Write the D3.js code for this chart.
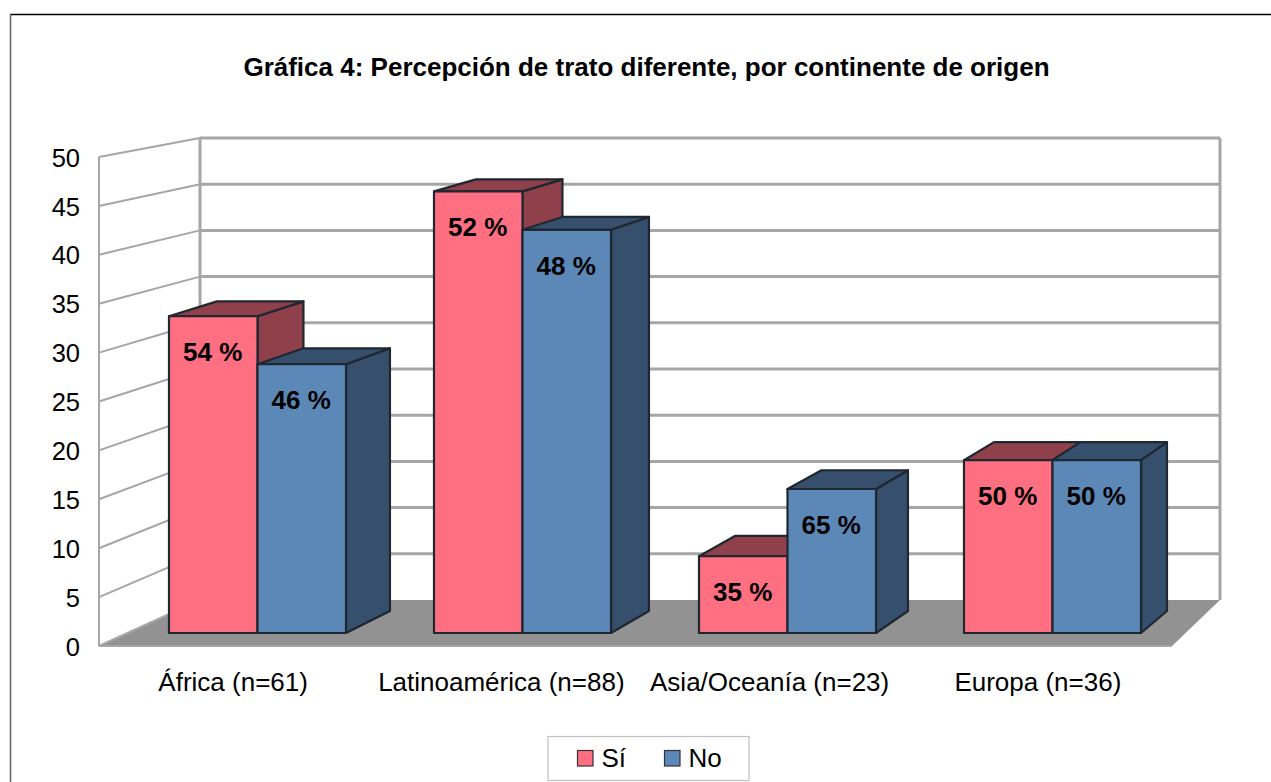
<!DOCTYPE html>
<html>
<head>
<meta charset="utf-8">
<script src="https://cdn.jsdelivr.net/npm/d3@7"></script>
<style>
  html, body { margin: 0; padding: 0; background: #fff; }
  svg { display: block; font-family: "Liberation Sans", sans-serif; }
  .tick text { font-size: 25.5px; fill: #000; }
  .cat { font-size: 26px; fill: #000; }
  .title { font-size: 26px; font-weight: bold; }
  .value { font-size: 26px; font-weight: bold; }
</style>
</head>
<body>
<svg width="1271" height="782"></svg>
<script>
const categories = ['África (n=61)', 'Latinoamérica (n=88)', 'Asia/Oceanía (n=23)', 'Europa (n=36)'];
const seriesNames = ['Sí', 'No'];
const siValues = [33, 46, 8, 18];
const noValues = [28, 42, 15, 18];
const siLabels = ['54 %', '52 %', '35 %', '50 %'];
const noLabels = ['46 %', '48 %', '65 %', '50 %'];
const yTicks = [0, 5, 10, 15, 20, 25, 30, 35, 40, 45, 50];

const colors = { 'Sí': '#ff6f82', 'No': '#5c88b8' };
const darkColors = { 'Sí': '#8f404a', 'No': '#354f6c' };
const edge = '#1f2730';

const svg = d3.select('svg');

// the walls get one y scale for the front edge and one for the back edge
const yFront = d3.scaleLinear().domain([0, 50]).range([646, 157]);
const yBack = d3.scaleLinear().domain([0, 50]).range([600, 138]);
const yBar = d3.scaleLinear().domain([0, 50]).range([633, 153]);

const xLabel = d3.scaleBand().domain(categories).range([99, 1172]);
const xGroup = d3.scaleBand().domain(categories).range([125, 1185])
  .paddingInner(0.332).paddingOuter(0.166);
const xSeries = d3.scaleBand().domain(seriesNames).range([0, xGroup.bandwidth()]);

// bar depth runs towards a vanishing point far off to the upper right
const vanish = [2290, -340];
const depth = 0.0226;
const back = ([x, y]) => [x + depth * (vanish[0] - x), y + depth * (vanish[1] - y)];

const poly = (pts) => pts.map((p) => p.join(',')).join(' ');

// outer frame runs off the right and bottom of the picture
svg.append('line')
  .attr('x1', 10).attr('x2', 1271)
  .attr('y1', 14.5).attr('y2', 14.5)
  .attr('stroke', '#000')
  .attr('stroke-width', 1.6);
svg.append('line')
  .attr('x1', 10.5).attr('x2', 10.5)
  .attr('y1', 14).attr('y2', 782)
  .attr('stroke', '#666')
  .attr('stroke-width', 1.6);

svg.append('text')
  .attr('class', 'title')
  .attr('x', 646.5)
  .attr('y', 76)
  .attr('text-anchor', 'middle')
  .text('Gráfica 4: Percepción de trato diferente, por continente de origen');

// floor
svg.append('polygon')
  .attr('points', poly([[99, yFront(0)], [200, yBack(0)], [1220, yBack(0)], [1172, yFront(0)]]))
  .attr('fill', '#929292');

const grid = svg.append('g')
  .attr('fill', 'none')
  .attr('stroke', '#a6a6a6');

grid.selectAll('.back')
  .data(yTicks.filter((t) => t > 0))
  .enter()
  .append('line')
  .attr('x1', 200)
  .attr('x2', 1220)
  .attr('y1', (t) => yBack(t))
  .attr('y2', (t) => yBack(t))
  .attr('stroke-width', 3);

grid.selectAll('.side')
  .data(yTicks)
  .enter()
  .append('line')
  .attr('x1', 99)
  .attr('x2', 200)
  .attr('y1', (t) => yFront(t))
  .attr('y2', (t) => yBack(t))
  .attr('stroke-width', 2);

grid.append('line')
  .attr('x1', 200).attr('x2', 200)
  .attr('y1', yBack(50)).attr('y2', yBack(0))
  .attr('stroke-width', 3);
grid.append('line')
  .attr('x1', 1220).attr('x2', 1220)
  .attr('y1', yBack(50)).attr('y2', yBack(0))
  .attr('stroke-width', 3);
grid.append('line')
  .attr('x1', 99).attr('x2', 99)
  .attr('y1', yFront(50)).attr('y2', yFront(0))
  .attr('stroke-width', 2);
grid.append('line')
  .attr('x1', 99).attr('x2', 1172)
  .attr('y1', yFront(0)).attr('y2', yFront(0))
  .attr('stroke-width', 2);

svg.append('g')
  .attr('transform', 'translate(84, 1)')
  .call(d3.axisLeft(yFront).tickValues(yTicks).tickSize(0).tickPadding(4))
  .call((g) => g.select('.domain').remove())
  .attr('font-family', null)
  .attr('font-size', null);

svg.append('g')
  .selectAll('text')
  .data(categories)
  .enter()
  .append('text')
  .attr('class', 'cat')
  .attr('x', (c) => xLabel(c) + xLabel.bandwidth() / 2)
  .attr('y', 691)
  .attr('text-anchor', 'middle')
  .text((c) => c);

const barData = [];
categories.forEach((c, i) => {
  barData.push({ cat: c, series: 'Sí', value: siValues[i], label: siLabels[i] });
  barData.push({ cat: c, series: 'No', value: noValues[i], label: noLabels[i] });
});

const bars = svg.append('g')
  .attr('stroke', edge)
  .attr('stroke-width', 2.2)
  .attr('stroke-linejoin', 'round')
  .selectAll('g')
  .data(barData)
  .enter()
  .append('g');

const corners = (d) => {
  const x0 = xGroup(d.cat) + xSeries(d.series);
  const x1 = x0 + xSeries.bandwidth();
  return { x0, x1, y0: yBar(0), y1: yBar(d.value) };
};

// side, top, then the front face on top of both
bars.append('polygon')
  .attr('points', (d) => {
    const c = corners(d);
    return poly([[c.x1, c.y0], back([c.x1, c.y0]), back([c.x1, c.y1]), [c.x1, c.y1]]);
  })
  .attr('fill', (d) => darkColors[d.series]);

bars.append('polygon')
  .attr('points', (d) => {
    const c = corners(d);
    return poly([[c.x0, c.y1], back([c.x0, c.y1]), back([c.x1, c.y1]), [c.x1, c.y1]]);
  })
  .attr('fill', (d) => darkColors[d.series]);

bars.append('rect')
  .attr('x', (d) => corners(d).x0)
  .attr('y', (d) => corners(d).y1)
  .attr('width', xSeries.bandwidth())
  .attr('height', (d) => corners(d).y0 - corners(d).y1)
  .attr('fill', (d) => colors[d.series]);

svg.append('g')
  .selectAll('text')
  .data(barData)
  .enter()
  .append('text')
  .attr('class', 'value')
  .attr('x', (d) => corners(d).x0 + xSeries.bandwidth() / 2 - 0.5)
  .attr('y', (d) => corners(d).y1 + 45)
  .attr('text-anchor', 'middle')
  .text((d) => d.label);

// legend
const legend = svg.append('g');
legend.append('rect')
  .attr('x', 548)
  .attr('y', 736.5)
  .attr('width', 201)
  .attr('height', 44)
  .attr('fill', '#fff')
  .attr('stroke', '#c0c0c0')
  .attr('stroke-width', 1.2);

const xLegend = d3.scalePoint().domain(seriesNames).range([577.5, 664.5]);
const items = legend.selectAll('g.item')
  .data(seriesNames)
  .enter()
  .append('g')
  .attr('class', 'item');
items.append('rect')
  .attr('x', (s) => xLegend(s))
  .attr('y', 750.5)
  .attr('width', 15.5)
  .attr('height', 15.5)
  .attr('fill', (s) => colors[s])
  .attr('stroke', '#333')
  .attr('stroke-width', 1.2);
items.append('text')
  .attr('class', 'cat')
  .attr('x', (s) => xLegend(s) + 24)
  .attr('y', 767)
  .text((s) => s);
</script>
</body>
</html>
